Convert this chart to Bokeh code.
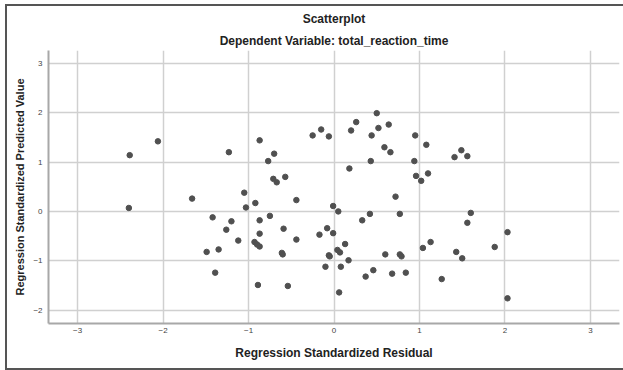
from bokeh.plotting import figure
from bokeh.models import FixedTicker, Title, Range1d
from bokeh.embed import file_html
from bokeh.resources import INLINE

residual = [
    -2.39, -2.06, -1.66, -2.40, -1.49, -1.23, -0.87, -0.70, -0.77, -0.71,
    -0.67, -0.57, -1.05, -0.44, -0.25, -0.15, -0.06, 0.18, 0.20, 0.26,
    0.50, 0.52, 0.44, 0.64, 0.43, 0.59, 0.66, 0.72, 0.95, 1.08,
    0.94, 0.96, 1.02, 1.10, 1.41, 1.49, 1.56, -0.92, -1.03, -1.42,
    -1.20, -1.26, -1.12, -1.35, -1.39, -0.87, -0.75, -0.87, -0.93, -0.90,
    -0.87, -0.59, -0.44, -0.61, -0.60, -0.89, -0.54, -0.01, 0.05, -0.17,
    -0.08, -0.01, 0.13, 0.04, 0.07, -0.06, -0.05, 0.17, -0.10, 0.08,
    0.06, 0.33, 0.42, 0.77, 0.60, 0.77, 0.79, 0.37, 0.46, 0.68,
    0.84, 1.60, 1.56, 2.03, 1.13, 1.04, 1.43, 1.50, 1.88, 1.26,
    2.03,
]
predicted = [
    1.14, 1.42, 0.26, 0.07, -0.82, 1.20, 1.44, 1.17, 1.02, 0.66,
    0.59, 0.70, 0.38, 0.23, 1.54, 1.66, 1.52, 0.87, 1.64, 1.81,
    1.99, 1.69, 1.54, 1.76, 1.02, 1.30, 1.20, 0.30, 1.54, 1.35,
    1.02, 0.72, 0.62, 0.77, 1.10, 1.24, 1.12, 0.17, 0.08, -0.12,
    -0.20, -0.37, -0.59, -0.77, -1.24, -0.18, -0.09, -0.45, -0.62, -0.67,
    -0.71, -0.35, -0.57, -0.84, -0.87, -1.49, -1.51, 0.11, 0.00, -0.47,
    -0.34, -0.44, -0.66, -0.78, -0.83, -0.89, -0.91, -0.99, -1.12, -1.12,
    -1.64, -0.18, -0.05, -0.05, -0.87, -0.87, -0.91, -1.32, -1.19, -1.26,
    -1.24, -0.03, -0.23, -0.42, -0.62, -0.74, -0.82, -0.95, -0.72, -1.37,
    -1.76,
]
x_ticks = [-3, -2, -1, 0, 1, 2, 3]
y_ticks = [-2, -1, 0, 1, 2, 3]

title_text = "Scatterplot"
subtitle_text = "Dependent Variable: total_reaction_time"
x_label = "Regression Standardized Residual"
y_label = "Regression Standardized Predicted Value"

FONT = "Liberation Sans"

p = figure(width=623, height=370, output_backend="svg", toolbar_location=None,
           title=None,
           x_range=Range1d(-3.34, 3.34), y_range=Range1d(-2.27, 3.26),
           min_border_left=48, min_border_right=4, min_border_top=50,
           min_border_bottom=47)

p.add_layout(Title(text=subtitle_text, align="center", text_font=FONT,
                   text_font_size="12px", text_font_style="bold",
                   text_color="#222222", standoff=6), "above")
p.add_layout(Title(text=title_text, align="center", text_font=FONT,
                   text_font_size="12px", text_font_style="bold",
                   text_color="#222222", standoff=6), "above")

p.scatter(residual, predicted, size=5.5, color="#505050", line_color="#505050")

p.outline_line_color = None
p.background_fill_color = "white"
p.border_fill_color = None

for ax in (p.xaxis[0], p.yaxis[0]):
    ax.axis_line_color = "#a8a8a8"
    ax.axis_line_width = 2
    ax.major_tick_line_color = None
    ax.minor_tick_line_color = None
    ax.major_tick_in = 0
    ax.major_tick_out = 0
    ax.major_label_text_font = FONT
    ax.major_label_text_font_size = "8px"
    ax.major_label_text_color = "#444444"
    ax.axis_label_text_font = FONT
    ax.axis_label_text_font_style = "bold"
    ax.axis_label_text_color = "#222222"

p.xaxis.axis_label_text_font_size = "12px"
p.yaxis.axis_label_text_font_size = "11px"
p.xaxis.ticker = FixedTicker(ticks=x_ticks)
p.yaxis.ticker = FixedTicker(ticks=y_ticks)
p.xaxis.axis_label = x_label
p.yaxis.axis_label = y_label
p.xaxis.major_label_standoff = 4
p.yaxis.major_label_standoff = 6
p.xaxis.axis_label_standoff = 10
p.yaxis.axis_label_standoff = 4

p.xgrid.ticker = FixedTicker(ticks=x_ticks)
p.ygrid.ticker = FixedTicker(ticks=y_ticks)
p.grid.grid_line_color = "#d0d0d0"
p.grid.grid_line_width = 1.5

line = "linear-gradient(#555555,#555555)"
p.styles = {
    "background": (f"{line} 5px 4px / 700px 2px no-repeat, "
                   f"{line} 5px 4px / 2px 366px no-repeat, "
                   f"{line} 5px 368px / 700px 2px no-repeat, white"),
}

open("out.html", "w").write(file_html(p, INLINE))
